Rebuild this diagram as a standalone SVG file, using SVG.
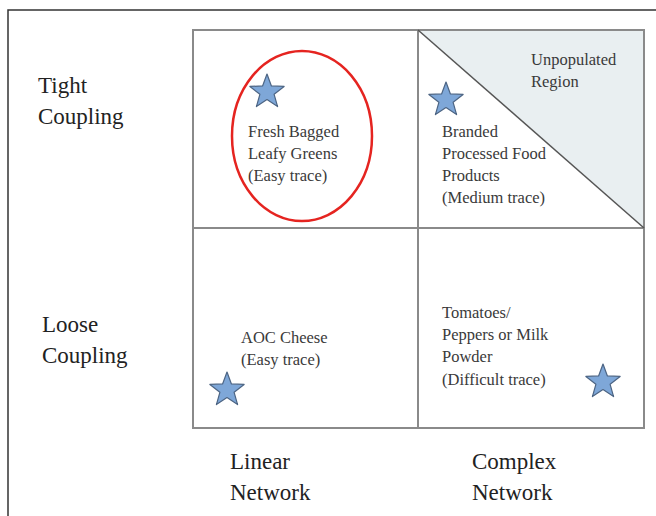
<svg xmlns="http://www.w3.org/2000/svg" width="656" height="516" viewBox="0 0 656 516">
<defs>
<style>
.frame{fill:none;stroke:#333;stroke-width:1.5}
.grid{fill:none;stroke:#8a8a8a;stroke-width:2}
.lbl{font-size:16.5px;fill:#3a3a3a}
.ax{font-size:23px;fill:#222}
.star{fill:#7ea7d8;stroke:#4d6584;stroke-width:1.2;stroke-linejoin:round}
</style>
<path id="star" d="M0,-18 L4.41,-6.07 L17.12,-5.56 L7.13,2.32 L10.58,14.56 L0,7.5 L-10.58,14.56 L-7.13,2.32 L-17.12,-5.56 L-4.41,-6.07 Z"/>
</defs>
<rect width="656" height="516" fill="#fff"/>
<path class="frame" d="M8,516 V10 H656"/>
<g id="connectors">
<polygon points="418,30 644,30 644,228" fill="#e9eff1"/>
<rect class="grid" x="193" y="30" width="451" height="398"/>
<line class="grid" x1="418" y1="30" x2="418" y2="428"/>
<line class="grid" x1="193" y1="228" x2="644" y2="228"/>
<line x1="418" y1="30" x2="644" y2="228" stroke="#555" stroke-width="1.5"/>
</g>
<g font-family="Liberation Serif, serif">
<g id="tight-linear">
<ellipse cx="302" cy="136" rx="70" ry="85" fill="none" stroke="#e52420" stroke-width="2.5"/>
<use href="#star" class="star" x="267" y="92"/>
<text class="lbl" x="248" y="137">Fresh Bagged</text>
<text class="lbl" x="248" y="159">Leafy Greens</text>
<text class="lbl" x="248" y="181">(Easy trace)</text>
</g>
<g id="tight-complex">
<use href="#star" class="star" x="446" y="100"/>
<text class="lbl" x="531" y="65">Unpopulated</text>
<text class="lbl" x="531" y="87">Region</text>
<text class="lbl" x="442" y="137">Branded</text>
<text class="lbl" x="442" y="159">Processed Food</text>
<text class="lbl" x="442" y="181">Products</text>
<text class="lbl" x="442" y="203">(Medium trace)</text>
</g>
<g id="loose-linear">
<use href="#star" class="star" x="227" y="390"/>
<text class="lbl" x="241" y="343">AOC Cheese</text>
<text class="lbl" x="241" y="365">(Easy trace)</text>
</g>
<g id="loose-complex">
<use href="#star" class="star" x="603" y="382"/>
<text class="lbl" x="442" y="318">Tomatoes/</text>
<text class="lbl" x="442" y="340">Peppers or Milk</text>
<text class="lbl" x="442" y="362">Powder</text>
<text class="lbl" x="442" y="385">(Difficult trace)</text>
</g>
<g id="axis-labels">
<text class="ax" x="38" y="93">Tight</text>
<text class="ax" x="38" y="124">Coupling</text>
<text class="ax" x="42" y="332">Loose</text>
<text class="ax" x="42" y="363">Coupling</text>
<text class="ax" x="230" y="469">Linear</text>
<text class="ax" x="230" y="500">Network</text>
<text class="ax" x="472" y="469">Complex</text>
<text class="ax" x="472" y="500">Network</text>
</g>
</g>
</svg>
